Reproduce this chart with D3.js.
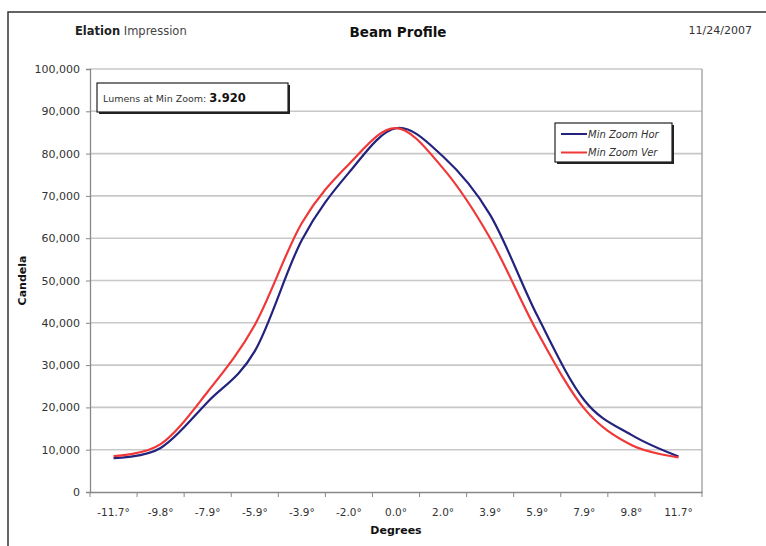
<!DOCTYPE html>
<html>
<head>
<meta charset="utf-8">
<script src="https://cdn.jsdelivr.net/npm/d3@7"></script>
<style>
  html, body { margin: 0; padding: 0; background: #fff; }
  svg { display: block; font-family: "DejaVu Sans", Verdana, sans-serif; }
</style>
</head>
<body>
<svg id="chart" width="766" height="546"></svg>
<script>
// ---- data ----
const degrees = ["-11.7°","-9.8°","-7.9°","-5.9°","-3.9°","-2.0°","0.0°","2.0°","3.9°","5.9°","7.9°","9.8°","11.7°"];
const minZoomHor = [8000, 10400, 21300, 33300, 59600, 75500, 86000, 79300, 65500, 41700, 21700, 13500, 8400];
const minZoomVer = [8500, 11300, 23700, 39500, 63600, 77500, 86000, 76500, 60000, 37900, 19700, 11100, 8200];
const seriesNames = ["Min Zoom Hor", "Min Zoom Ver"];
const yTicks = [0, 10000, 20000, 30000, 40000, 50000, 60000, 70000, 80000, 90000, 100000];

const svg = d3.select("#chart");
const L = 90, R = 702, T = 69, B = 492;

const x = d3.scaleBand().domain(degrees).range([L, R]).paddingInner(0).paddingOuter(0);
const xc = d => x(d) + x.bandwidth() / 2;
const y = d3.scaleLinear().domain([0, 100000]).range([B, T]);

// outer frame
svg.append("rect").attr("x", 8).attr("y", 12).attr("width", 800).attr("height", 600)
  .attr("fill", "none").attr("stroke", "#333").attr("stroke-width", 1.5);

// header
const hdr = svg.append("text").attr("x", 75).attr("y", 35).attr("font-size", 11.5).attr("fill", "#222");
hdr.append("tspan").attr("font-weight", "bold").text("Elation");
hdr.append("tspan").attr("fill", "#444").text(" Impression");
svg.append("text").attr("x", 398).attr("y", 37).attr("text-anchor", "middle")
  .attr("font-size", 13.5).attr("font-weight", "bold").attr("fill", "#111").text("Beam Profile");
svg.append("text").attr("x", 752).attr("y", 34).attr("text-anchor", "end")
  .attr("font-size", 11).attr("fill", "#333").text("11/24/2007");

// gridlines
svg.append("g").selectAll("line").data(yTicks.filter(v => v > 0)).join("line")
  .attr("x1", L).attr("x2", R).attr("y1", d => y(d)).attr("y2", d => y(d))
  .attr("stroke", "#c8c8c8").attr("stroke-width", 1.6);

// plot border (right)
svg.append("line").attr("x1", R).attr("x2", R).attr("y1", T).attr("y2", B)
  .attr("stroke", "#a8a8a8").attr("stroke-width", 1.5);

// y axis
const yAxis = svg.append("g").attr("transform", `translate(${L},0)`)
  .call(d3.axisLeft(y).tickValues(yTicks).tickFormat(d3.format(",")).tickSize(4).tickPadding(6));
yAxis.select(".domain").attr("stroke", "#888").attr("stroke-width", 1.3);
yAxis.selectAll(".tick line").attr("stroke", "#888");
yAxis.selectAll("text").attr("font-size", 11).attr("fill", "#333").attr("font-family", "DejaVu Sans, Verdana, sans-serif");

// x axis
const xAxis = svg.append("g").attr("transform", `translate(0,${B})`)
  .call(d3.axisBottom(x).tickSize(0).tickPadding(17));
xAxis.select(".domain").attr("stroke", "#888").attr("stroke-width", 1.3);
xAxis.selectAll("text").attr("font-size", 10.5).attr("fill", "#333").attr("font-family", "DejaVu Sans, Verdana, sans-serif");
// ticks between categories
svg.append("g").selectAll("line").data(degrees.concat(["end"])).join("line")
  .attr("x1", (d, i) => L + i * x.bandwidth()).attr("x2", (d, i) => L + i * x.bandwidth())
  .attr("y1", B).attr("y2", B + 5).attr("stroke", "#888");

// axis titles
svg.append("text").attr("x", (L + R) / 2).attr("y", 534).attr("text-anchor", "middle")
  .attr("font-size", 11).attr("font-weight", "bold").attr("fill", "#111").text("Degrees");
svg.append("text").attr("transform", `translate(26,${(T + B) / 2}) rotate(-90)`).attr("text-anchor", "middle")
  .attr("font-size", 11).attr("font-weight", "bold").attr("fill", "#111").text("Candela");

// lines
const colors = ["#23237e", "#f03838"];
const line = d3.line().x((d, i) => xc(degrees[i])).y(d => y(d)).curve(d3.curveCardinal.tension(0));
[minZoomHor, minZoomVer].forEach((s, i) => {
  svg.append("path").attr("d", line(s)).attr("fill", "none")
    .attr("stroke", colors[i]).attr("stroke-width", 2.2).attr("stroke-linejoin", "round");
});
// redraw ver underneath? keep order: red on top of blue as in reference
// text box
const tb = svg.append("g");
tb.append("rect").attr("x", 99).attr("y", 85).attr("width", 191).attr("height", 29).attr("fill", "#222");
tb.append("rect").attr("x", 97).attr("y", 83).attr("width", 191).attr("height", 29)
  .attr("fill", "#fff").attr("stroke", "#222").attr("stroke-width", 1.2);
const tt = tb.append("text").attr("x", 103).attr("y", 102).attr("fill", "#333");
tt.append("tspan").attr("font-size", 9.5).text("Lumens at Min Zoom:  ");
tt.append("tspan").attr("font-size", 11.5).attr("font-weight", "bold").attr("fill", "#111").text("3.920");

// legend
const lg = svg.append("g");
lg.append("rect").attr("x", 557).attr("y", 125).attr("width", 117).attr("height", 39).attr("fill", "#222");
lg.append("rect").attr("x", 555).attr("y", 123).attr("width", 117).attr("height", 39)
  .attr("fill", "#fff").attr("stroke", "#222").attr("stroke-width", 1.2);
seriesNames.forEach((n, i) => {
  const yy = 134 + i * 18.5;
  lg.append("line").attr("x1", 561).attr("x2", 587).attr("y1", yy).attr("y2", yy)
    .attr("stroke", colors[i]).attr("stroke-width", 2);
  lg.append("text").attr("x", 588).attr("y", yy + 3.5).attr("font-size", 10).attr("font-style", "italic")
    .attr("fill", "#333").text(n);
});
</script>
</body>
</html>
